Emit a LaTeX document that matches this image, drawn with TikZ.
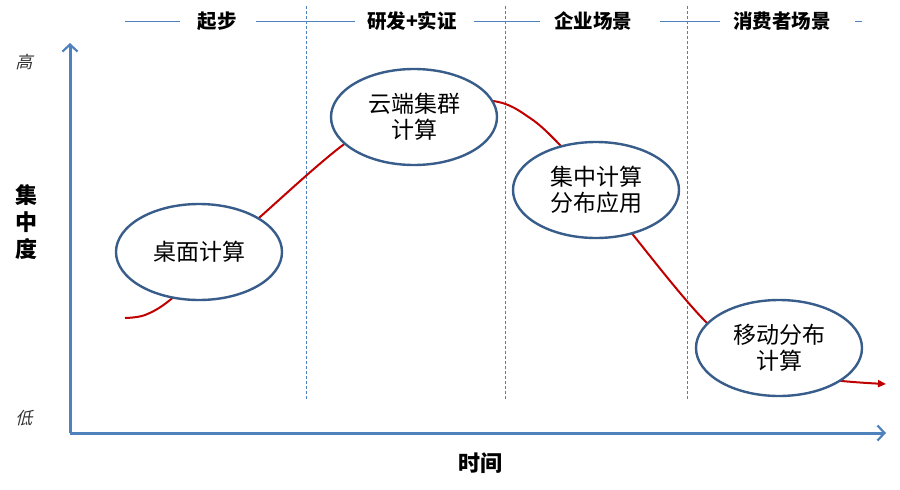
\documentclass[tikz,border=0pt]{standalone}
\usepackage{fontspec}
\setmainfont{Noto Sans CJK SC}
\newfontfamily\cjk{Noto Sans CJK SC}
\newfontfamily\cjkslant[FakeSlant=0.25]{Noto Sans CJK SC}
\usetikzlibrary{arrows.meta,shapes.geometric}
\definecolor{axisblue}{RGB}{79,129,189}
\definecolor{ellblue}{RGB}{56,93,138}
\definecolor{trendred}{RGB}{192,0,0}
\tikzset{
  phase/.style={draw=axisblue, line width=0.8pt},
  divider/.style={draw=axisblue, line width=0.8pt, dash pattern=on 3pt off 2pt},
  axisline/.style={draw=axisblue, line width=3pt, -{Straight Barb[length=7pt,width=15pt,line width=2.2pt]}},
  stage/.style={ellipse, draw=ellblue, line width=2.4pt, fill=white, minimum width=166pt, minimum height=96pt, inner sep=0pt, align=center, font=\fontsize{23}{26}\selectfont\cjk},
  phaselabel/.style={font=\fontsize{19.5}{22}\selectfont\cjk\bfseries, inner sep=1pt},
  levellabel/.style={font=\fontsize{17}{20}\selectfont\cjkslant, text=black!80},
  axislabel/.style={font=\fontsize{22}{27}\selectfont\cjk\bfseries, align=center},
  trend/.style={draw=trendred, line width=2pt}
}
\begin{document}
\begin{tikzpicture}[x=1pt,y=-1pt]
\useasboundingbox (0,0) rectangle (900,490);
% phase header lines
\draw[phase] (125,21) -- (180,21);
\draw[phase] (256,21) -- (355,21);
\draw[phase] (474,21) -- (540,21);
\draw[phase] (660,21) -- (720,21);
\draw[phase] (855,21) -- (862,21);
\node[phaselabel] (p1) at (217,21) {起步};
\node[phaselabel] (p2) at (412,21) {研发+实证};
\node[phaselabel] (p3) at (593,21) {企业场景};
\node[phaselabel] (p4) at (782,21) {消费者场景};
% dividers
\draw[divider] (306,6) -- (306,400);
\draw[divider] (505,6) -- (505,400);
\draw[divider] (687,6) -- (687,400);
% axes
\coordinate (origin) at (70,433);
\coordinate (ytop) at (70,43);
\coordinate (xend) at (886,433);
\draw[axisline] (origin) -- (ytop);
\draw[axisline] (origin) -- (xend);
\node[levellabel] (hi) at (24,62) {高};
\node[levellabel] (lo) at (24,418) {低};
\node[axislabel] (ylab) at (26,222) {集\\中\\度};
\node[axislabel] (xlab) at (480,463) {时间};
% trend curve
\coordinate (t0) at (125,318);
\coordinate (tend) at (886,384);
\draw[trend, -{Triangle[length=8pt,width=7pt]}] plot[smooth, tension=0.55] coordinates {
  (125,318) (145,315) (170,300) (215,258) (260,217) (343,145) (414,102) (493,101) (530,118) (560,145) (600,190) (634,236) (706,322) (770,372) (842,381) (886,384)};
% stages
\node[stage] (s1) at (199,252) {桌面计算};
\node[stage] (s2) at (414,117) {云端集群\\计算};
\node[stage] (s3) at (596,190) {集中计算\\分布应用};
\node[stage] (s4) at (779,348) {移动分布\\计算};
\end{tikzpicture}
\end{document}
